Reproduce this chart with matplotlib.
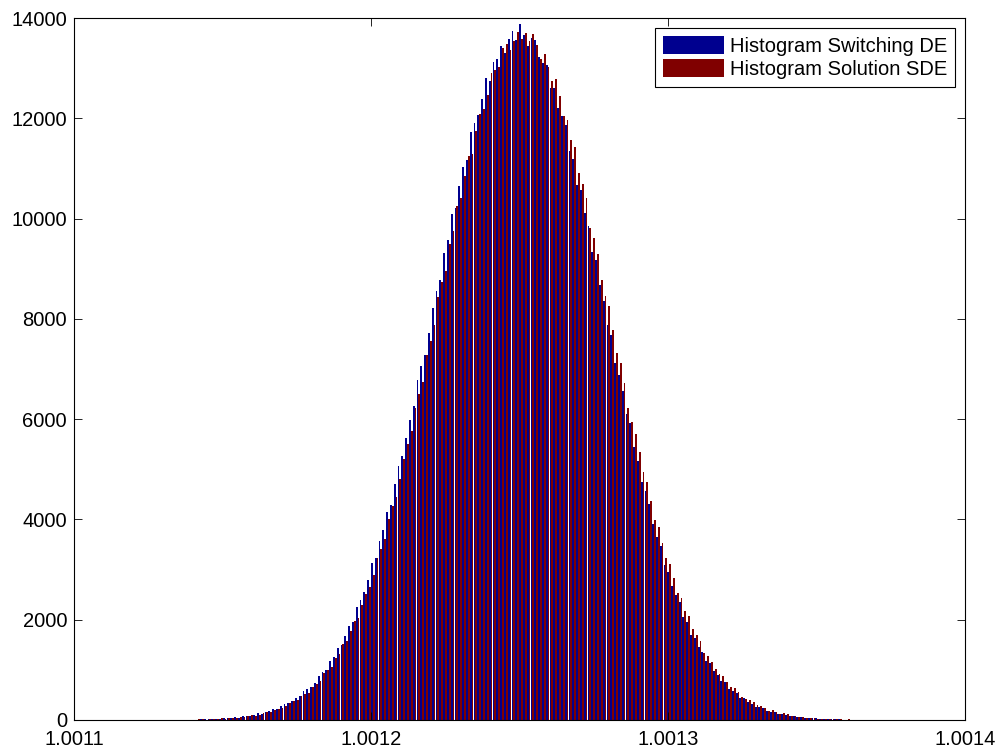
import numpy as np
import matplotlib
matplotlib.use("Agg")
import matplotlib.pyplot as plt

# histogram counts, bins ordered left to right (191 bins)
switching_de = [
    0, 1, 2, 3, 1, 3, 4, 3, 8, 9, 7, 10, 17, 20, 16,
    28, 26, 40, 32, 44, 55, 49, 78, 82, 84,
    103, 137, 127, 168, 178, 220, 214, 273, 323, 331,
    381, 436, 472, 579, 618, 648, 747, 875, 958, 1005,
    1176, 1255, 1445, 1501, 1684, 1865, 1960, 2248, 2400, 2554,
    2797, 3125, 3226, 3578, 3791, 4139, 4278, 4697, 5067, 5259,
    5619, 5981, 6265, 6790, 7059, 7286, 7721, 8225, 8560, 8771,
    9318, 9565, 10091, 10219, 10651, 11032, 11170, 11719, 11909, 12070,
    12377, 12810, 12739, 13120, 13181, 13447, 13295, 13591, 13746, 13570,
    13890,
    13661, 13450, 13597, 13565, 13220, 13102, 13063, 12603, 12596, 12209,
    12036, 11875, 11354, 11182, 10661, 10574, 10107, 9852, 9326, 9182,
    8681, 8366, 7879, 7677, 7113, 6871, 6570, 6099, 5917, 5438,
    5163, 4749, 4573, 4315, 3908, 3656, 3466, 3088, 2958, 2666,
    2496, 2349, 2062, 1945, 1699, 1645, 1454, 1357, 1173, 1136,
    985, 906, 780, 751, 616, 583, 537, 447, 439, 355,
    326, 265, 263, 241, 187, 167, 160, 116, 120, 92,
    86, 85, 57, 58, 37, 46, 33, 34, 21, 28,
    18, 17, 11, 13, 7, 8, 7, 4, 4, 2, 3, 1, 2, 0, 1,
]
solution_sde = [
    0, 2, 1, 1, 4, 2, 3, 7, 6, 5, 10, 10, 9, 18, 19,
    17, 30, 29, 42, 37, 49, 62, 52, 74, 90,
    89, 106, 145, 150, 160, 209, 229, 231, 277, 337,
    374, 399, 483, 518, 544, 664, 716, 777, 930, 1000,
    1057, 1236, 1321, 1511, 1581, 1775, 1971, 2034, 2291, 2516,
    2650, 2894, 3239, 3420, 3619, 4009, 4263, 4439, 4797, 5206,
    5512, 5765, 6232, 6505, 6738, 7275, 7564, 7870, 8438, 8727,
    8953, 9501, 9753, 10258, 10411, 10848, 11246, 11290, 11745, 12080,
    12176, 12462, 12908, 12972, 13033, 13404, 13473, 13365, 13532, 13731,
    13590,
    13710, 13548, 13673, 13469, 13182, 13284, 13017, 12750, 12788, 12454,
    12037, 11974, 11568, 11424, 10907, 10682, 10413, 9811, 9604, 9289,
    8780, 8450, 8261, 7783, 7329, 7126, 6724, 6225, 5942, 5702,
    5347, 4946, 4745, 4377, 3991, 3846, 3525, 3232, 3114, 2834,
    2539, 2429, 2182, 2068, 1813, 1696, 1575, 1341, 1269, 1166,
    1008, 920, 887, 767, 661, 638, 560, 461, 426, 403,
    353, 294, 285, 237, 187, 190, 156, 128, 135, 110,
    81, 87, 67, 69, 46, 46, 43, 23, 28, 26,
    17, 15, 19, 12, 8, 11, 7, 4, 6, 3, 2, 3, 1, 1, 2,
]
first_center, last_center = 1.00112896, 1.00137205
x_ticks = [1.0011, 1.0012, 1.0013, 1.0014]
y_ticks = list(range(0, 14001, 2000))

centers = np.linspace(first_center, last_center, len(switching_de))
pitch = centers[1] - centers[0]

plt.rcParams["font.family"] = ["Liberation Sans", "DejaVu Sans"]
fig = plt.figure(figsize=(10.02, 7.51), dpi=100)
ax = fig.add_axes([0.0739, 0.0413, 0.8891, 0.9347])

# grouped bars: two series side by side inside each bin
ax.bar(centers - 0.25 * pitch, switching_de, width=0.48 * pitch, color="#00008f",
       linewidth=0, label="Histogram Switching DE")
ax.bar(centers + 0.25 * pitch, solution_sde, width=0.48 * pitch, color="#800000",
       linewidth=0, label="Histogram Solution SDE")

ax.set_xlim(1.0011, 1.0014)
ax.set_ylim(0, 14000)
ax.set_xticks(x_ticks)
ax.set_xticklabels([f"{t:.4f}" for t in x_ticks])
ax.set_yticks(y_ticks)
ax.set_yticklabels([str(t) for t in y_ticks])
ax.tick_params(direction="in", top=True, right=True, length=6, width=0.6,
               labelsize=14.5)
ax.tick_params(axis="x", pad=7)
ax.tick_params(axis="y", pad=5)
for sp in ax.spines.values():
    sp.set_linewidth(0.8)

leg = ax.legend(loc="upper right", fontsize=14.5, frameon=True, fancybox=False,
                framealpha=1, edgecolor="black", handlelength=3.0, handleheight=1.0,
                handletextpad=0.3, labelspacing=0.15, borderpad=0.4, borderaxespad=0.5)
leg.get_frame().set_linewidth(0.8)

fig.savefig("out.png", dpi=100)
